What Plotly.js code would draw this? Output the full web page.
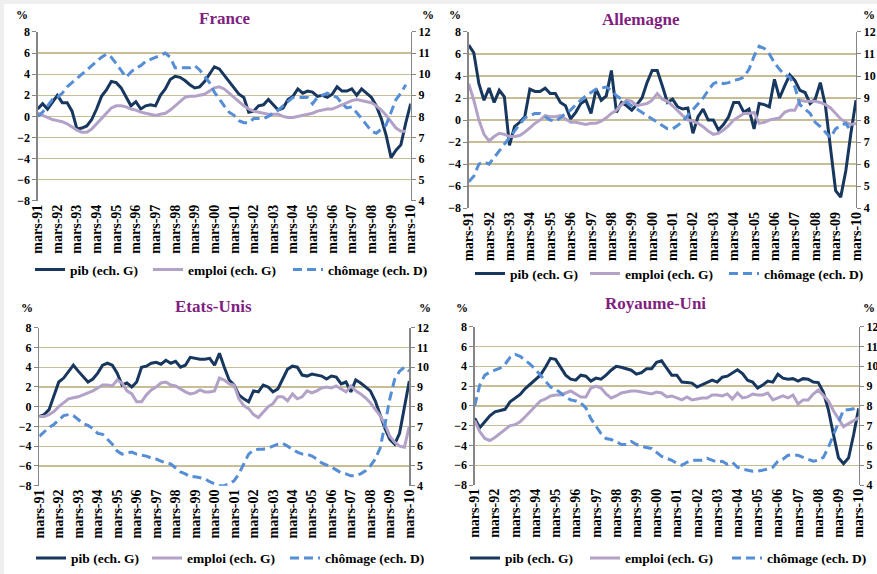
<!DOCTYPE html>
<html><head><meta charset="utf-8">
<script src="https://cdn.plot.ly/plotly-3.0.1.min.js"></script>
<style>
html,body{margin:0;padding:0;background:#efefef;width:877px;height:574px;overflow:hidden;}
#chart{position:absolute;left:4px;top:4px;width:873px;height:570px;background:#fff;}
</style>
</head><body><div id="chart"></div>
<script>
const tickLabels = ['mars-91','mars-92','mars-93','mars-94','mars-95','mars-96','mars-97','mars-98','mars-99','mars-00',
  'mars-01','mars-02','mars-03','mars-04','mars-05','mars-06','mars-07','mars-08','mars-09','mars-10'];
const countries = ['France','Allemagne','Etats-Unis','Royaume-Uni'];
const seriesNames = ['pib (ech. G)','emploi (ech. G)','chômage (ech. D)'];

// France
const pibFrance = [0.7,1.2,0.7,1.4,2.0,1.3,1.3,0.5,-1.2,-1.1,-0.9,-0.3,0.7,1.9,2.5,3.3,3.2,2.7,1.9,1.0,
  1.4,0.7,1.0,1.1,1.0,2.0,2.6,3.5,3.8,3.7,3.4,3.0,2.7,2.8,3.3,4.0,4.7,4.5,3.9,3.4,
  2.8,2.1,1.8,0.4,0.5,1.0,1.1,1.6,1.1,0.6,0.8,1.6,1.9,2.6,2.2,2.4,2.3,1.9,2.0,1.8,
  2.1,2.8,2.4,2.4,2.6,2.0,2.6,2.2,1.8,1.0,-0.2,-1.8,-3.9,-3.2,-2.7,-0.6,1.2];
const emploiFrance = [0.3,0.1,-0.1,-0.3,-0.4,-0.5,-0.7,-1.0,-1.3,-1.5,-1.5,-1.2,-0.7,-0.1,0.4,0.8,1.0,1.0,0.9,0.7,
  0.6,0.4,0.3,0.2,0.1,0.2,0.3,0.6,1.0,1.4,1.8,1.9,1.9,2.0,2.1,2.4,2.7,2.8,2.6,2.2,
  1.8,1.4,1.0,0.7,0.5,0.4,0.3,0.2,0.2,0.2,0.0,-0.1,-0.1,0.0,0.1,0.2,0.3,0.5,0.6,0.7,
  0.7,0.9,1.1,1.3,1.5,1.6,1.5,1.4,1.3,1.0,0.6,0.1,-0.5,-1.1,-1.4,-1.4,null];
const chomageFrance = [8.0,8.2,8.5,8.8,8.9,9.1,9.4,9.6,9.8,10.0,10.2,10.4,10.6,10.8,10.95,10.8,10.5,10.2,9.85,10.1,
  10.3,10.4,10.6,10.7,10.8,10.9,11.0,10.8,10.3,10.3,10.3,10.3,10.4,10.2,9.9,9.6,9.15,8.8,8.5,8.2,
  8.05,7.8,7.7,7.7,7.9,7.9,7.9,8.0,8.13,8.3,8.5,8.7,8.9,8.9,8.9,8.9,8.6,8.9,9.0,9.1,
  9.0,8.9,8.6,8.4,8.45,8.2,7.9,7.6,7.3,7.2,7.4,7.6,8.2,8.8,9.1,9.5,null];

// Allemagne
const pibAllemagne = [6.8,6.1,3.3,1.8,2.9,1.6,2.7,2.1,-2.3,-0.6,-0.2,0.3,2.8,2.6,2.6,2.9,2.4,2.4,1.6,1.3,
  0.1,0.7,1.5,1.8,0.6,2.8,1.8,2.2,4.5,0.7,1.6,1.3,0.9,1.4,2.0,3.4,4.5,4.5,3.1,1.6,
  1.9,1.2,1.0,1.1,-1.2,0.3,1.0,0.0,0.0,-0.9,-0.4,0.3,1.6,1.6,0.7,1.0,-0.8,1.5,1.4,1.2,
  3.7,2.0,3.1,4.1,3.6,2.7,2.5,1.5,1.9,3.4,1.3,-2.3,-6.4,-7.0,-4.6,-1.2,1.8];
const emploiAllemagne = [3.3,1.8,0.0,-1.3,-1.9,-1.5,-1.2,-1.3,-1.5,-1.5,-1.4,-1.1,-0.7,-0.3,0.0,0.4,0.3,0.3,0.4,0.1,
  -0.2,-0.2,-0.3,-0.4,-0.3,-0.3,-0.1,0.2,0.6,0.9,1.4,1.8,1.7,1.3,1.4,1.5,1.8,2.4,1.9,1.7,
  1.3,0.8,0.4,0.0,-0.1,-0.3,-0.6,-1.0,-1.3,-1.2,-0.9,-0.5,0.0,0.3,0.6,0.6,0.7,-0.3,-0.2,0.0,
  0.1,0.2,0.7,0.9,0.9,1.8,1.7,1.7,1.7,1.6,1.4,1.1,0.6,0.1,-0.2,-0.4,-0.3];
const chomageAllemagne = [5.2,5.45,6.0,6.1,6.0,6.3,6.6,6.9,7.2,7.5,7.85,8.1,8.2,8.3,8.3,8.15,8.0,7.95,8.1,8.3,
  8.45,8.7,8.9,9.1,9.25,9.4,9.45,9.5,9.35,9.1,8.95,8.8,8.65,8.5,8.35,8.2,8.05,7.9,7.75,7.6,
  7.6,7.75,7.95,8.2,8.45,8.7,9.0,9.35,9.65,9.75,9.65,9.7,9.8,9.85,9.95,10.3,10.9,11.35,11.25,11.0,
  10.6,10.3,10.05,9.95,9.5,8.7,8.5,8.3,7.9,7.7,7.45,7.2,7.6,7.75,7.85,7.5,null];

// Etats-Unis
const pibEtatsUnis = [-1.0,-0.8,-0.3,1.0,2.5,2.9,3.6,4.2,3.6,3.0,2.5,2.8,3.4,4.2,4.4,4.2,3.4,2.2,2.4,2.0,
  2.5,4.0,4.1,4.4,4.5,4.3,4.7,4.4,4.6,4.0,4.2,5.0,4.9,4.8,4.8,4.9,4.2,5.4,4.0,2.7,
  2.2,1.2,0.8,0.5,1.6,1.5,2.2,2.0,1.5,1.8,2.8,3.8,4.1,4.0,3.2,3.1,3.3,3.2,3.1,2.8,
  3.1,3.0,2.3,2.5,1.5,2.7,2.4,2.0,1.6,0.6,-0.8,-2.2,-3.3,-3.8,-2.7,0.0,2.6];
const emploiEtatsUnis = [-1.0,-1.0,-0.8,-0.5,0.0,0.4,0.8,0.9,1.0,1.2,1.4,1.6,1.9,2.2,2.2,2.1,2.7,2.4,1.6,1.3,
  0.5,0.5,1.2,1.7,2.0,2.4,2.5,2.2,2.1,1.8,1.5,1.3,1.4,1.7,1.5,1.5,1.6,2.9,2.7,2.3,
  2.2,0.8,0.1,-0.2,-0.8,-1.1,-0.5,0.0,0.3,1.0,1.0,0.6,1.3,0.8,1.0,1.6,1.4,1.6,1.9,2.0,
  1.9,2.1,1.8,1.5,2.1,1.6,1.3,0.9,0.4,-0.2,-0.9,-1.8,-3.0,-3.6,-4.0,-4.1,-2.0];
const chomageEtatsUnis = [6.5,6.75,6.95,7.1,7.35,7.55,7.6,7.55,7.35,7.15,7.05,6.9,6.65,6.6,6.35,6.1,5.75,5.6,5.65,5.7,
  5.6,5.55,5.5,5.4,5.35,5.25,5.15,5.1,4.9,4.7,4.6,4.45,4.45,4.4,4.35,4.2,4.1,4.0,4.0,4.1,
  4.25,4.6,5.1,5.6,5.8,5.85,5.85,5.9,6.0,6.1,6.15,6.0,5.85,5.7,5.6,5.6,5.5,5.35,5.15,5.05,
  4.95,4.8,4.65,4.6,4.5,4.5,4.6,4.75,5.0,5.35,5.9,7.1,8.4,9.4,9.8,10.0,9.8];

// Royaume-Uni
const pibRoyaumeUni = [-1.25,-2.2,-1.6,-1.0,-0.6,-0.5,-0.35,0.4,0.75,1.15,1.75,2.2,2.6,3.1,3.9,4.8,4.7,3.9,3.1,2.7,
  2.6,3.1,3.0,2.5,2.8,2.7,3.1,3.6,4.0,3.9,3.75,3.6,3.2,3.35,3.75,3.75,4.4,4.55,3.8,3.1,
  3.1,2.4,2.35,2.3,1.9,2.15,2.35,2.6,2.4,2.9,3.0,3.35,3.65,3.25,2.6,2.4,1.8,2.1,2.5,2.4,
  3.2,2.8,2.7,2.75,2.5,2.75,2.7,2.4,2.35,1.4,-0.4,-2.9,-5.25,-5.85,-5.25,-2.9,-0.25];
const emploiRoyaumeUni = [-1.5,-2.6,-3.3,-3.5,-3.2,-2.8,-2.4,-2.0,-1.9,-1.6,-1.1,-0.6,0.0,0.5,0.7,1.0,1.1,1.1,1.3,1.5,
  1.2,0.9,0.9,1.8,2.0,1.8,1.2,0.8,1.0,1.3,1.4,1.5,1.5,1.4,1.3,1.2,1.4,1.3,0.9,1.0,
  0.8,0.6,0.9,0.6,0.7,0.8,0.8,1.1,1.1,1.0,1.2,0.7,1.3,0.8,0.9,1.2,1.1,1.1,1.3,0.6,
  0.8,1.0,0.8,1.1,0.2,0.6,0.6,1.2,1.6,1.1,0.5,-0.5,-1.3,-2.1,-1.8,-1.5,-1.2];
const chomageRoyaumeUni = [8.0,9.05,9.55,9.7,9.8,9.9,10.1,10.45,10.6,10.5,10.3,10.1,9.85,9.55,9.2,8.95,8.85,8.65,8.45,8.3,
  8.25,8.15,7.9,7.35,6.95,6.6,6.35,6.3,6.2,6.05,6.05,6.2,6.05,5.95,5.9,5.85,5.65,5.45,5.35,5.25,
  5.1,5.0,5.15,5.25,5.25,5.25,5.35,5.25,5.15,5.2,5.05,5.15,4.9,4.8,4.75,4.7,4.7,4.75,4.8,4.9,
  5.2,5.3,5.5,5.5,5.5,5.4,5.3,5.2,5.25,5.4,5.9,6.55,7.2,7.8,7.8,7.85,7.95];

const pibSeries = [pibFrance, pibAllemagne, pibEtatsUnis, pibRoyaumeUni];
const emploiSeries = [emploiFrance, emploiAllemagne, emploiEtatsUnis, emploiRoyaumeUni];
const chomageSeries = [chomageFrance, chomageAllemagne, chomageEtatsUnis, chomageRoyaumeUni];

// ---- geometry / styles ----
const W = 873, H = 570, OX = 4, OY = 4;
const fx = px => (px - OX) / W;
const fy = py => 1 - (py - OY) / H;
const panels = [
  {l: 37.7, r: 410.7, t: 32.3, b: 203.3, title: [224, 19], pl: [22, 15], pr: [428, 15], leg: [[35,273],[153,273],[293,273]]},
  {l: 468.7, r: 856, t: 32.3, b: 210.7, title: [641, 20], pl: [455, 15], pr: [869, 15], leg: [[475,277],[590,277],[729,277]]},
  {l: 39.3, r: 409.3, t: 331.7, b: 491.7, title: [213, 310], pl: [27, 312], pr: [425, 312], leg: [[36,565],[152,565],[290,565]]},
  {l: 474.7, r: 858.7, t: 330.7, b: 491, title: [655, 307], pl: [462, 312], pr: [869, 312], leg: [[470,565],[590,565],[732,565]]}
];
const colors = ['#17375e', '#b3a2c7', '#558ed5'];
const serif = '"Liberation Serif", "Times New Roman", serif';
const gridColor = '#c9bd95';
const axisGray = '#868686';

const traces = [];
const layout = {
  width: W, height: H, margin: {l: 0, r: 0, t: 0, b: 0},
  paper_bgcolor: '#ffffff', plot_bgcolor: '#ffffff',
  font: {family: serif, color: '#000'},
  annotations: [], showlegend: true
};
const tickVals = tickLabels.map((_, i) => i * 4);
let legendIdx = 1;

panels.forEach((p, k) => {
  const n = k + 1;
  const xa = n === 1 ? 'x' : 'x' + n;
  const ya = n === 1 ? 'y' : 'y' + n;
  const ya2 = 'y' + (n + 4);
  const xs = pibSeries[k].map((_, i) => i);
  const series = [pibSeries[k], emploiSeries[k], chomageSeries[k]];
  series.forEach((vals, s) => {
    const lg = legendIdx === 1 ? 'legend' : 'legend' + legendIdx;
    traces.push({
      type: 'scatter', mode: 'lines', x: xs, y: vals, name: seriesNames[s],
      xaxis: xa, yaxis: s === 2 ? ya2 : ya,
      line: {color: colors[s], width: 3, dash: s === 2 ? '9px,5px' : 'solid'},
      legend: lg, showlegend: true, hoverinfo: 'skip'
    });
    layout[lg] = {
      x: fx(p.leg[s][0] - 5), y: fy(p.leg[s][1]), xanchor: 'left', yanchor: 'middle',
      orientation: 'h', bgcolor: 'rgba(0,0,0,0)', borderwidth: 0,
      font: {family: serif, size: 13.5, weight: 'bold', color: '#000'},
      itemwidth: 30, itemclick: false, itemdoubleclick: false
    };
    legendIdx++;
  });
  const xKey = n === 1 ? 'xaxis' : 'xaxis' + n;
  const yKey = n === 1 ? 'yaxis' : 'yaxis' + n;
  const y2Key = 'yaxis' + (n + 4);
  layout[xKey] = {
    domain: [fx(p.l), fx(p.r)], anchor: ya, range: [0, 76],
    tickmode: 'array', tickvals: tickVals, ticktext: tickLabels, tickangle: -90,
    showgrid: false, zeroline: false, showline: false, ticks: '',
    tickfont: {family: serif, size: 14, weight: 'bold', color: '#000'}
  };
  layout[yKey] = {
    domain: [fy(p.b), fy(p.t)], anchor: xa, range: [-8, 8], dtick: 2, tick0: 0,
    showgrid: true, gridcolor: gridColor, gridwidth: 1.3, zeroline: false,
    showline: true, linecolor: axisGray, linewidth: 1.3,
    ticks: 'outside', ticklen: 4, tickcolor: axisGray,
    tickfont: {family: serif, size: 12, weight: 'bold', color: '#000'}
  };
  layout[y2Key] = {
    overlaying: ya, anchor: xa, side: 'right', range: [4, 12], dtick: 1, tick0: 4,
    showgrid: false, zeroline: false,
    showline: true, linecolor: axisGray, linewidth: 1.3,
    ticks: 'outside', ticklen: 4, tickcolor: axisGray,
    tickfont: {family: serif, size: 12, weight: 'bold', color: '#000'}
  };
  layout.annotations.push({
    xref: 'paper', yref: 'paper', x: fx(p.title[0]), y: fy(p.title[1]),
    xanchor: 'center', yanchor: 'middle', showarrow: false, text: countries[k],
    font: {family: serif, size: 17, weight: 'bold', color: '#7f1f7f'}
  });
  [p.pl, p.pr].forEach(pt => layout.annotations.push({
    xref: 'paper', yref: 'paper', x: fx(pt[0]), y: fy(pt[1]),
    xanchor: 'center', yanchor: 'middle', showarrow: false, text: '%',
    font: {family: serif, size: 12, weight: 'bold', color: '#000'}
  }));
});

Plotly.newPlot('chart', traces, layout, {staticPlot: true, displayModeBar: false});
</script>
</body></html>
